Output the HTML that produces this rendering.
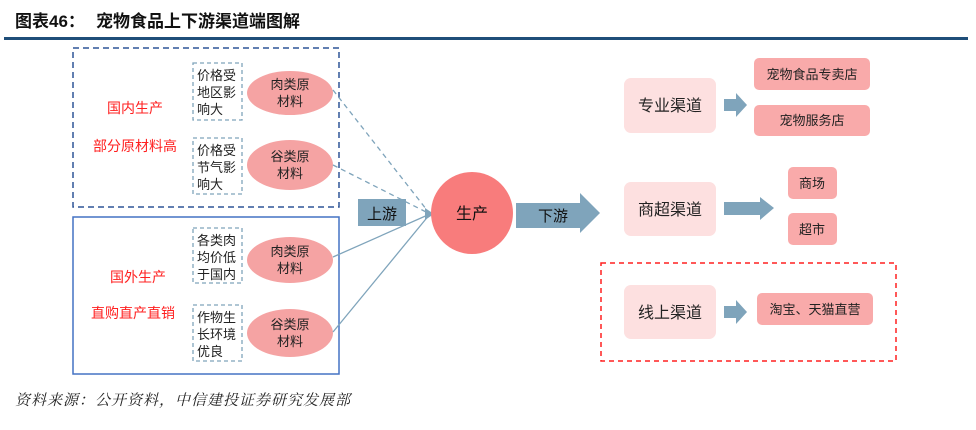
<!DOCTYPE html>
<html><head><meta charset="utf-8"><style>
html,body{margin:0;padding:0;background:#fff;width:976px;height:430px;overflow:hidden}
svg{display:block}
text{font-family:"Liberation Sans","Noto Sans CJK SC",sans-serif}
</style></head><body>
<svg width="976" height="430" viewBox="0 0 976 430" xmlns="http://www.w3.org/2000/svg">
<text x="15" y="27" font-size="17" font-weight="bold" fill="#111">图表46：</text>
<text x="96" y="27" font-size="17" font-weight="bold" fill="#111">宠物食品上下游渠道端图解</text>
<rect x="4" y="37" width="964" height="3" fill="#1f4e79"/>

<rect x="73" y="48" width="266" height="159" fill="none" stroke="#2f5597" stroke-width="1.5" stroke-dasharray="6,4"/>
<rect x="73" y="217" width="266" height="157" fill="none" stroke="#4472c4" stroke-width="1.5"/>
<g font-size="14" fill="#ff2020" text-anchor="middle">
<text x="135" y="113">国内生产</text>
<text x="135" y="151">部分原材料高</text>
<text x="138" y="282">国外生产</text>
<text x="133" y="318">直购直产直销</text>
</g>
<g fill="none" stroke="#7fa4bb" stroke-width="1.3" stroke-dasharray="4,3">
<rect x="193" y="63" width="49" height="57"/>
<rect x="193" y="138" width="49" height="56"/>
<rect x="193" y="228" width="49" height="55"/>
<rect x="193" y="305" width="49" height="56"/>
</g>
<g font-size="13" fill="#222">
<text x="197" y="80">价格受</text><text x="197" y="97">地区影</text><text x="197" y="114">响大</text>
<text x="197" y="155">价格受</text><text x="197" y="172">节气影</text><text x="197" y="189">响大</text>
<text x="197" y="245">各类肉</text><text x="197" y="262">均价低</text><text x="197" y="279">于国内</text>
<text x="197" y="322">作物生</text><text x="197" y="339">长环境</text><text x="197" y="356">优良</text>
</g>
<g fill="#f5a3a3">
<ellipse cx="290" cy="93" rx="43" ry="22"/>
<ellipse cx="290" cy="165" rx="43" ry="25"/>
<ellipse cx="290" cy="260" rx="43" ry="23"/>
<ellipse cx="290" cy="333" rx="43" ry="24"/>
</g>
<g font-size="13" fill="#222" text-anchor="middle">
<text x="290" y="89">肉类原</text><text x="290" y="106">材料</text>
<text x="290" y="161">谷类原</text><text x="290" y="178">材料</text>
<text x="290" y="256">肉类原</text><text x="290" y="273">材料</text>
<text x="290" y="329">谷类原</text><text x="290" y="346">材料</text>
</g>
<g stroke="#7fa4bb" stroke-width="1.3" fill="none">
<line x1="333" y1="90" x2="430" y2="214" stroke-dasharray="5,4"/>
<line x1="333" y1="165" x2="430" y2="214" stroke-dasharray="5,4"/>
<line x1="333" y1="257" x2="430" y2="214"/>
<line x1="333" y1="332" x2="430" y2="214"/>
</g>
<polygon points="425,208 434,214 425,220" fill="#7fa4bb"/>
<rect x="358" y="199" width="48" height="27" fill="#7fa4bb"/>
<text x="382" y="219" font-size="15" fill="#111" text-anchor="middle">上游</text>
<circle cx="472" cy="213" r="41" fill="#f87c7c"/>
<text x="472" y="219" font-size="16" fill="#111" text-anchor="middle">生产</text>
<polygon points="516,203 580,203 580,193 600,213 580,233 580,228 516,228" fill="#7fa4bb"/>
<text x="553" y="221" font-size="15" fill="#111" text-anchor="middle">下游</text>

<rect x="601" y="263" width="295" height="98" fill="none" stroke="#ff2020" stroke-width="1.5" stroke-dasharray="5,4"/>
<g fill="#fde0e0">
<rect x="624" y="78" width="92" height="55" rx="7"/>
<rect x="624" y="182" width="92" height="54" rx="7"/>
<rect x="624" y="285" width="92" height="54" rx="7"/>
</g>
<g font-size="16" fill="#222" text-anchor="middle">
<text x="670" y="111">专业渠道</text>
<text x="670" y="215">商超渠道</text>
<text x="670" y="318">线上渠道</text>
</g>
<g fill="#7fa4bb">
<polygon points="724,99 736,99 736,93 747,105 736,117 736,111 724,111"/>
<polygon points="724,202 760,202 760,197 774,208 760,220 760,215 724,215"/>
<polygon points="724,306 736,306 736,300 747,312 736,324 736,318 724,318"/>
</g>
<g fill="#f9aaaa">
<rect x="754" y="58" width="116" height="32" rx="5"/>
<rect x="754" y="105" width="116" height="31" rx="5"/>
<rect x="788" y="167" width="49" height="32" rx="5"/>
<rect x="788" y="213" width="49" height="32" rx="5"/>
<rect x="757" y="293" width="116" height="32" rx="5"/>
</g>
<g font-size="13" fill="#222" text-anchor="middle">
<text x="812" y="79">宠物食品专卖店</text>
<text x="812" y="125">宠物服务店</text>
<text x="812" y="188">商场</text>
<text x="812" y="234">超市</text>
<text x="815" y="314">淘宝、天猫直营</text>
</g>
<text x="15" y="405" font-size="15" font-style="italic" fill="#222" letter-spacing="1" style="font-family:'Liberation Serif','Noto Serif CJK SC',serif">资料来源：公开资料，中信建投证券研究发展部</text>
</svg>
</body></html>
